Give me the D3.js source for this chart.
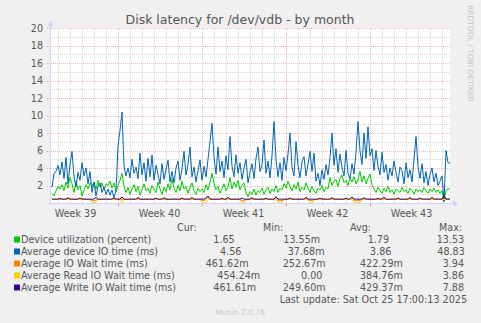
<!DOCTYPE html>
<html>
<head>
<meta charset="utf-8">
<script src="https://cdn.jsdelivr.net/npm/d3@7"></script>
<style>
  body { margin: 0; background: #f0f0f0; }
  text { font-family: "DejaVu Sans", sans-serif; }
</style>
</head>
<body>
<svg id="chart" width="481" height="323"></svg>
<script>
// ---- data: one sample every 4 hours, the last one at the last update ----
const lastUpdate = "2025-10-25T17:00:13Z";
const stepHours = 4;

const utilization = [
  1.1,0.8,1.4,1.9,1.6,2.1,1.4,2.4,1.7,2.9,2.2,1.2,2.5,1.5,2.0,0.8,1.4,2.1,1.6,2.3,
  1.9,2.4,1.6,2.6,1.8,2.3,1.5,2.2,2.0,2.5,1.7,2.3,1.3,
  2.0,2.6,3.4,1.9,
  1.2,1.8,1.0,1.6,2.1,1.3,1.9,0.9,1.5,2.2,1.4,1.7,1.1,2.0,1.5,1.2,2.4,1.6,1.0,1.8,
  1.3,2.2,1.5,2.8,1.7,1.2,2.0,1.4,2.5,1.6,1.9,1.1,1.8,2.3,1.4,1.0,1.7,1.3,
  1.6,1.2,2.1,1.5,2.4,3.4,2.2,1.5,1.9,1.1,1.6,2.2,1.4,1.8,2.9,1.6,2.4,1.8,2.6,1.5,2.1,2.3,1.2,
  0.7,1.3,1.0,1.6,0.9,1.4,1.2,1.7,1.0,1.5,1.8,1.1,1.6,1.3,2.0,1.2,1.7,
  1.5,2.2,1.7,2.5,1.9,1.4,2.1,1.6,2.4,1.3,1.8,1.5,2.3,1.7,1.2,1.9,1.4,1.1,1.7,1.5,2.0,1.3,1.8,1.6,
  2.9,2.0,2.5,2.7,1.9,2.8,3.2,2.3,2.6,2.0,2.9,2.4,3.0,2.2,2.7,3.6,2.4,3.1,2.2,2.8,3.3,2.1,
  1.6,1.2,1.8,1.4,1.1,1.7,1.3,1.9,1.2,1.5,1.0,1.6,1.4,1.2,1.8,1.3,1.5,1.1,1.7,1.4,
  1.0,1.6,1.3,1.5,1.2,1.8,1.4,1.1,1.6,1.3,1.7,1.2,1.5,1.1,1.4,
  0.1,1.5,1.6,1.65
];

const deviceIoTime = [
  1.8,3.4,3.6,4.3,3.2,4.7,2.8,5.2,2.2,4.4,5.9,3.0,1.8,3.5,2.6,4.6,3.1,4.0,2.2,3.6,
  1.2,2.4,0.8,1.9,2.3,1.2,1.8,1.0,1.6,0.9,1.5,0.6,1.4,6.5,8.3,10.4,4.2,3.1,4.0,2.9,
  5.0,3.4,4.1,2.8,5.7,3.2,4.6,2.5,5.1,3.0,5.5,2.6,4.3,3.3,2.2,4.5,2.7,3.8,4.9,2.4,
  3.6,2.3,4.0,4.8,2.6,3.9,5.9,3.2,4.4,6.4,3.0,4.1,2.4,3.7,4.9,2.6,4.2,3.0,5.0,7.0,
  9.1,5.2,3.3,6.4,3.6,4.8,2.9,5.4,3.8,7.6,4.2,3.0,5.5,3.4,4.6,2.7,4.0,5.0,2.3,3.5,
  4.5,2.8,5.1,6.4,3.6,4.4,7.2,3.4,4.8,2.9,5.4,9.3,5.0,3.0,4.6,2.6,5.2,3.7,5.6,8.0,
  4.1,3.1,7.0,4.3,2.9,4.7,5.3,3.1,4.4,5.9,3.6,5.7,2.5,3.4,2.0,3.8,2.7,4.4,3.2,5.2,
  8.0,4.3,6.2,3.5,5.6,4.0,3.1,6.0,3.4,2.8,4.5,3.3,5.8,9.3,6.0,4.4,8.0,5.1,8.7,5.4,
  6.2,3.7,6.0,4.2,3.2,5.8,3.5,4.4,2.6,4.0,3.1,4.8,3.5,2.4,4.1,3.7,2.2,4.6,2.9,3.8,
  2.4,5.0,7.6,4.2,2.8,4.5,2.3,3.6,2.0,3.3,4.0,2.4,3.4,2.0,2.5,3.1,0.2,6.0,4.6,4.56
];

const ioWaitTime = [
  .44,.42,.43,.42,.48,.42,.41,.42,.55,.42,.43,.42,.41,.42,.52,.42,.43,.42,.41,.42,
  .30,.26,.36,.42,.41,.42,.42,.43,.42,.41,.42,.50,.42,.42,.43,.40,.42,.41,.42,.42,
  .43,.42,.42,.56,.42,.41,.42,.43,.42,.42,.41,.42,.50,.42,.43,.42,.54,.42,.41,.42,
  .42,.43,.42,.42,.41,.50,.42,.42,.43,.42,.55,.42,.41,.42,.42,.32,.27,.45,.70,.43,
  .42,.41,.42,.43,.42,.48,.42,.42,.57,.42,.41,.42,.43,.42,.42,.28,.26,.41,.42,.43,
  .54,.42,.42,.41,.42,.43,.42,.50,.42,.42,.41,.42,.62,.30,.27,.28,.42,.41,.42,.52,
  .42,.42,.43,.42,.41,.42,.42,.58,.42,.28,.26,.41,.42,.42,.49,.42,.43,.42,.41,.42,
  .55,.42,.42,.43,.42,.41,.42,.50,.42,.42,.62,.30,.26,.27,.30,.42,.54,.42,.43,.42,
  .41,.42,.42,.48,.42,.43,.58,.42,.41,.42,.42,.43,.42,.52,.42,.41,.42,.42,.43,.55,
  .42,.42,.41,.42,.49,.42,.43,.42,.42,.41,.57,.42,.42,.43,.42,.42,.76,.42,.45,.46
];

const readWaitTime = [
  .40,.41,.40,.39,.40,.42,.40,.40,.38,.40,.41,.40,.40,.39,.40,.40,.41,.40,.39,.40,
  .05,.00,.12,.40,.40,.41,.39,.40,.40,.40,.41,.40,.39,.40,.40,.02,.40,.41,.40,.40,
  .40,.39,.40,.41,.40,.40,.40,.39,.40,.41,.40,.40,.40,.39,.40,.41,.40,.40,.39,.40,
  .40,.41,.40,.40,.39,.40,.40,.41,.40,.40,.40,.39,.40,.41,.40,.10,.00,.06,.40,.40,
  .41,.40,.40,.39,.40,.40,.41,.40,.40,.40,.39,.40,.40,.41,.40,.04,.00,.40,.40,.39,
  .40,.41,.40,.40,.40,.39,.40,.40,.41,.40,.40,.40,.39,.08,.00,.03,.40,.40,.41,.40,
  .40,.39,.40,.40,.41,.40,.40,.40,.39,.02,.00,.40,.40,.41,.40,.40,.39,.40,.40,.41,
  .40,.40,.39,.40,.40,.41,.40,.40,.40,.39,.40,.06,.00,.00,.05,.40,.40,.41,.40,.40,
  .39,.40,.40,.41,.40,.40,.40,.39,.40,.40,.41,.40,.40,.40,.39,.40,.40,.41,.40,.40,
  .40,.39,.40,.40,.41,.40,.40,.40,.39,.40,.40,.41,.40,.40,.40,.39,.40,.40,.44,.45
];

const writeWaitTime = [
  .46,.44,.45,.44,.52,.44,.43,.44,.62,.44,.45,.44,.43,.44,.58,.44,.45,.44,.43,.44,
  .44,.45,.66,.44,.43,.44,.44,.45,.44,.43,.44,.57,.44,.44,.45,.70,.44,.43,.44,.44,
  .45,.44,.44,.63,.44,.43,.44,.45,.44,.44,.43,.44,.55,.44,.45,.44,.60,.44,.43,.44,
  .44,.45,.44,.44,.43,.56,.44,.44,.45,.44,.62,.44,.43,.44,.44,.45,.44,.58,.80,.46,
  .44,.43,.44,.45,.44,.52,.44,.44,.64,.44,.43,.44,.45,.44,.44,.57,.44,.43,.44,.45,
  .60,.44,.44,.43,.44,.45,.44,.55,.44,.44,.43,.44,.72,.44,.45,.44,.44,.43,.44,.58,
  .44,.44,.45,.44,.43,.44,.44,.66,.44,.45,.44,.43,.44,.44,.54,.44,.45,.44,.43,.44,
  .62,.44,.44,.45,.44,.43,.44,.56,.44,.44,.70,.45,.44,.43,.44,.44,.60,.44,.45,.44,
  .43,.44,.44,.52,.44,.45,.66,.44,.43,.44,.44,.45,.44,.58,.44,.43,.44,.44,.45,.62,
  .44,.44,.43,.44,.55,.44,.45,.44,.44,.43,.64,.44,.44,.45,.44,.44,.86,.44,.45,.46
];

const seriesNames = [
  "Device utilization (percent)",
  "Average device IO time (ms)",
  "Average IO Wait time (ms)",
  "Average Read IO Wait time (ms)",
  "Average Write IO Wait time (ms)"
];
const seriesColors = ["#00cc00", "#0066b3", "#ff8000", "#ffcc00", "#330099"];
const curValues = ["1.65", "4.56", "461.62m", "454.24m", "461.61m"];
const minValues = ["13.55m", "37.68m", "252.67m", "0.00", "249.60m"];
const avgValues = ["1.79", "3.86", "422.29m", "384.76m", "429.37m"];
const maxValues = ["13.53", "48.83", "3.94", "3.86", "7.88"];
const yTicks = [2, 4, 6, 8, 10, 12, 14, 16, 18, 20];

// ---- layout ----
const svg = d3.select("#chart");
const plot = { left: 50, right: 450, top: 28, bottom: 203 };
const textColor = "#555";
const axisColor = "#cfd6f8";
const majorGrid = "rgba(235,120,120,0.55)";
const minorGrid = "rgba(170,170,170,0.5)";

const end = new Date(lastUpdate);
end.setUTCSeconds(0);
const hour = 3600 * 1000;
const start = new Date(end.getTime() - 800 * hour);

const x = d3.scaleUtc().domain([start, end]).range([plot.left, plot.right]);
const y = d3.scaleLinear().domain([0, 20]).range([plot.bottom, plot.top]);

svg.append("rect").attr("width", 481).attr("height", 323).attr("fill", "#f0f0f0");
svg.append("rect")
  .attr("x", plot.left).attr("y", plot.top)
  .attr("width", plot.right - plot.left).attr("height", plot.bottom - plot.top)
  .attr("fill", "#ffffff");

// horizontal grid: minor every 1, major every 2
const grid = svg.append("g");
d3.range(1, 21).forEach(v => {
  const major = v % 2 === 0;
  grid.append("line")
    .attr("x1", major ? plot.left - 3 : plot.left).attr("x2", plot.right)
    .attr("y1", Math.round(y(v)) + 0.5).attr("y2", Math.round(y(v)) + 0.5)
    .attr("stroke", major ? majorGrid : minorGrid)
    .attr("stroke-dasharray", "1,1");
});

// vertical grid: days (minor) and weeks starting Sunday (major)
const days = d3.utcDay.range(start, end);
days.forEach(d => {
  const major = d.getUTCDay() === 0;
  const px = Math.round(x(d)) + 0.5;
  grid.append("line")
    .attr("x1", px).attr("x2", px)
    .attr("y1", plot.top).attr("y2", plot.bottom)
    .attr("stroke", major ? majorGrid : minorGrid)
    .attr("stroke-dasharray", "1,1");
  if (major) {
    grid.append("line")
      .attr("x1", px).attr("x2", px)
      .attr("y1", plot.bottom).attr("y2", plot.bottom + 3)
      .attr("stroke", "rgba(230,110,110,0.8)");
  }
});

// y tick labels
svg.append("g").selectAll("text").data(yTicks).join("text")
  .attr("x", 43).attr("y", d => y(d) + 3.5)
  .attr("text-anchor", "end")
  .attr("font-size", "9.6px").attr("fill", textColor)
  .text(d => d);

// week labels, centred in each week
const sundays = d3.utcSunday.range(d3.utcSunday.offset(start, -1), end);
const weekLabel = d3.utcFormat("%V");
svg.append("g").selectAll("text").data(sundays.map(s => new Date(s.getTime() + 84 * hour)))
  .join("text")
  .filter(function(d) { return x(d) > plot.left && x(d) < plot.right; })
  .attr("x", d => x(d)).attr("y", 216.5)
  .attr("text-anchor", "middle")
  .attr("font-size", "9.6px").attr("fill", textColor)
  .text(d => "Week " + weekLabel(d));

// series
const allSeries = [utilization, deviceIoTime, ioWaitTime, readWaitTime, writeWaitTime];
const timeAt = i => new Date(end.getTime() - (199 - i) * stepHours * hour);
const line = d3.line().x((d, i) => x(timeAt(i))).y(d => y(d));
allSeries.forEach((s, k) => {
  svg.append("path")
    .datum(s)
    .attr("d", line)
    .attr("fill", "none")
    .attr("stroke", seriesColors[k])
    .attr("stroke-width", 1);
});

// axes with arrows
svg.append("line")
  .attr("x1", plot.left + 0.5).attr("x2", plot.left + 0.5)
  .attr("y1", plot.bottom + 2).attr("y2", plot.top - 4)
  .attr("stroke", axisColor);
svg.append("path")
  .attr("d", `M${plot.left - 2.5},${plot.top - 2} L${plot.left + 3.5},${plot.top - 2} L${plot.left + 0.5},${plot.top - 8} Z`)
  .attr("fill", axisColor);
svg.append("line")
  .attr("x1", plot.left - 3).attr("x2", plot.right + 5)
  .attr("y1", plot.bottom + 0.5).attr("y2", plot.bottom + 0.5)
  .attr("stroke", axisColor);
svg.append("path")
  .attr("d", `M${plot.right + 3},${plot.bottom - 2.5} L${plot.right + 3},${plot.bottom + 3.5} L${plot.right + 9},${plot.bottom + 0.5} Z`)
  .attr("fill", axisColor);

// title
svg.append("text")
  .attr("x", 240).attr("y", 23.5)
  .attr("text-anchor", "middle")
  .attr("font-size", "12.5px").attr("fill", textColor)
  .text("Disk latency for /dev/vdb - by month");

// vertical credit on the right edge
svg.append("text")
  .attr("transform", "translate(468,5) rotate(90)")
  .attr("font-size", "7.5px").attr("fill", "#c4c4c4")
  .text("RRDTOOL / TOBI OETIKER");

// legend
const headerX = [177, 263, 350, 439];
["Cur:", "Min:", "Avg:", "Max:"].forEach((h, i) => {
  svg.append("text").attr("x", headerX[i]).attr("y", 231)
    .attr("font-size", "9.6px").attr("fill", textColor).text(h);
});
const colStart = [
  [213.3, 283.3, 367.7, 436.7],
  [220.0, 287.7, 370.0, 437.3],
  [205.7, 282.7, 360.0, 442.7],
  [217.3, 301.0, 360.0, 442.7],
  [213.3, 282.7, 360.0, 442.7]
];
seriesNames.forEach((name, r) => {
  const by = 243 + r * 12;
  svg.append("rect").attr("x", 14).attr("y", by - 6.5).attr("width", 6).attr("height", 6)
    .attr("fill", seriesColors[r]);
  svg.append("text").attr("x", 21).attr("y", by)
    .attr("font-size", "9.6px").attr("fill", textColor).text(name);
  [curValues, minValues, avgValues, maxValues].forEach((col, c) => {
    svg.append("text").attr("x", colStart[r][c]).attr("y", by)
      .attr("font-size", "9.6px").attr("fill", textColor).text(col[r]);
  });
});

svg.append("text")
  .attr("x", 467).attr("y", 303)
  .attr("text-anchor", "end")
  .attr("font-size", "9.6px").attr("fill", textColor)
  .text("Last update: Sat Oct 25 17:00:13 2025");

svg.append("text")
  .attr("x", 240).attr("y", 315)
  .attr("text-anchor", "middle")
  .attr("font-size", "7.6px").attr("fill", "#c8c8c8")
  .text("Munin 2.0.76");
</script>
</body>
</html>
